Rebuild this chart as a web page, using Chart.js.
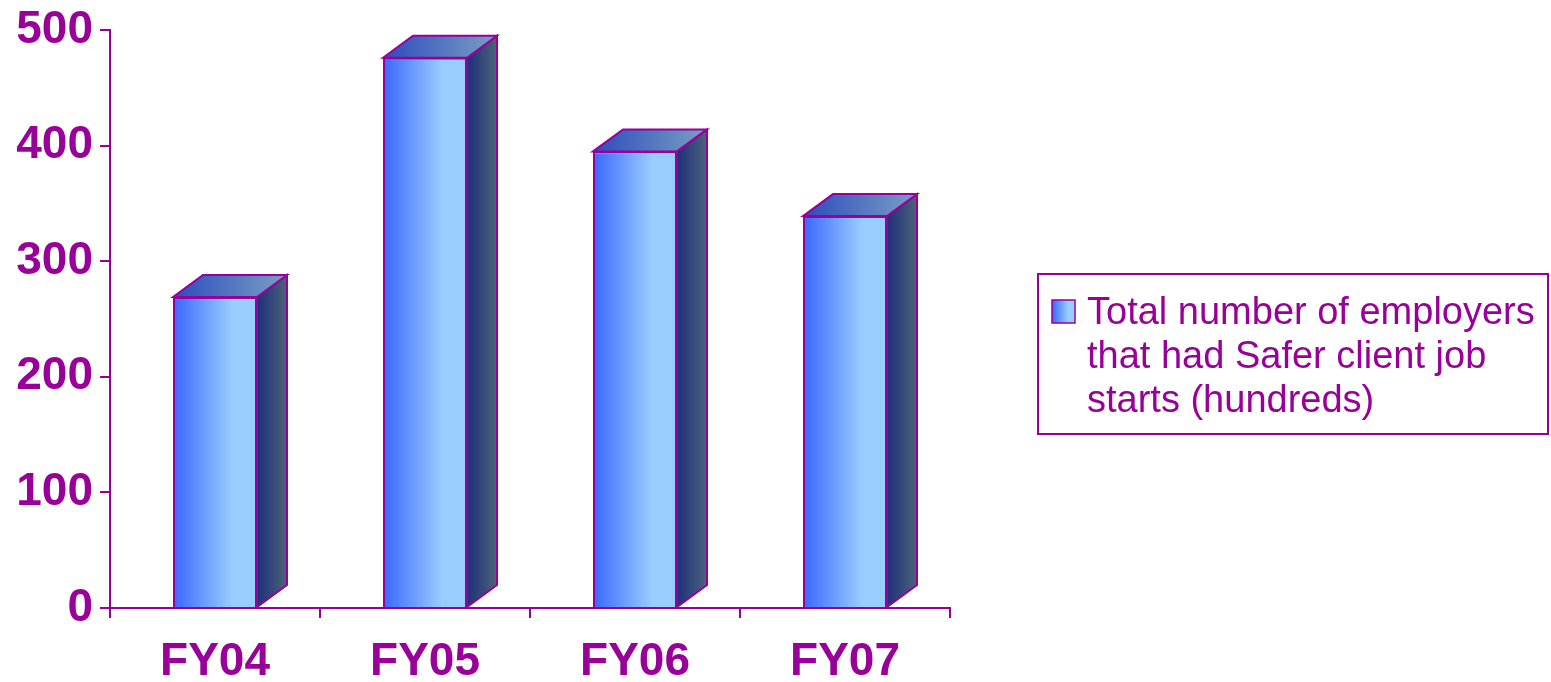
<!DOCTYPE html>
<html>
<head>
<meta charset="utf-8">
<script src="https://cdn.jsdelivr.net/npm/chart.js@4/dist/chart.umd.min.js"></script>
<style>
  html, body { margin: 0; padding: 0; background: #fff; }
  #wrap { width: 1551px; height: 682px; position: relative; }
</style>
</head>
<body>
<div id="wrap"><canvas id="employerChart"></canvas></div>
<script>
// ===== data =====
const categories = ["FY04", "FY05", "FY06", "FY07"];
const employers = [269, 476, 395, 339];
const yTicks = [0, 100, 200, 300, 400, 500];
const legendLines = ["Total number of employers", "that had Safer client job", "starts (hundreds)"];

const purple = "#990099";
const font = "Arial, 'Liberation Sans', sans-serif";
const depthX = 30, depthY = 22;

function frontGradient(c, x0, x1) {
    let g = c.createLinearGradient(x0, 0, x1, 0);
    g.addColorStop(0, "#3a66ff");
    g.addColorStop(0.7, "#99ccff");
    g.addColorStop(1, "#9acdff");
    return g;
}

// side + top faces for the 3D look
const threeD = {
    id: "threeD",
    afterDatasetsDraw(chart) {
        const c = chart.ctx;
        chart.getDatasetMeta(0).data.forEach(bar => {
            const p = bar.getProps(["x", "y", "base", "width"], true);
            const l = p.x - p.width / 2, r = p.x + p.width / 2;
            c.save();
            c.lineWidth = 2;
            c.strokeStyle = purple;
            c.lineJoin = "miter";

            // side
            let gs = c.createLinearGradient(r, 0, r + depthX, 0);
            gs.addColorStop(0, "#1e2f7a");
            gs.addColorStop(1, "#4c6379");
            c.beginPath();
            c.moveTo(r, p.y);
            c.lineTo(r + depthX, p.y - depthY);
            c.lineTo(r + depthX, p.base - depthY);
            c.lineTo(r, p.base);
            c.closePath();
            c.fillStyle = gs;
            c.fill();
            c.stroke();

            // top
            let gt = c.createLinearGradient(l, 0, r + depthX, 0);
            gt.addColorStop(0, "#2c4cbc");
            gt.addColorStop(1, "#7a9fc4");
            c.beginPath();
            c.moveTo(l, p.y);
            c.lineTo(l + depthX, p.y - depthY);
            c.lineTo(r + depthX, p.y - depthY);
            c.lineTo(r, p.y);
            c.closePath();
            c.fillStyle = gt;
            c.fill();
            c.stroke();
            c.restore();
        });
    }
};

// boxed legend on the right
const boxLegend = {
    id: "boxLegend",
    afterDraw(chart) {
        const c = chart.ctx;
        c.save();
        c.lineWidth = 2;
        c.strokeStyle = purple;
        c.strokeRect(1038, 274, 510, 160);

        c.fillStyle = frontGradient(c, 1052, 1075);
        c.fillRect(1052, 300, 23, 23);
        c.lineWidth = 1.5;
        c.strokeRect(1052, 300, 23, 23);

        c.fillStyle = purple;
        c.font = "38px " + font;
        c.textBaseline = "alphabetic";
        legendLines.forEach((t, i) => c.fillText(t, 1087, 324 + i * 44));
        c.restore();
    }
};

new Chart(document.getElementById("employerChart"), {
    type: "bar",
    data: {
        labels: categories,
        datasets: [{
            label: legendLines.join(" "),
            data: employers,
            backgroundColor: ctx => {
                const xs = ctx.chart.scales.x;
                if (!xs || ctx.dataIndex == null) return "#6699ff";
                const cx = xs.getPixelForValue(ctx.dataIndex);
                const half = xs.width / categories.length * 0.4 / 2;
                if (!isFinite(cx) || !isFinite(half)) return "#6699ff";
                return frontGradient(ctx.chart.ctx, cx - half, cx + half);
            },
            borderColor: purple,
            borderWidth: 2,
            barPercentage: 0.4,
            categoryPercentage: 1
        }]
    },
    options: {
        responsive: true,
        maintainAspectRatio: false,
        animation: false,
        layout: { padding: { top: 28, right: 601, left: 0, bottom: 0 } },
        plugins: {
            legend: { display: false },
            tooltip: { enabled: false }
        },
        scales: {
            x: {
                grid: { display: true, drawOnChartArea: false, color: purple, lineWidth: 2, tickLength: 10 },
                border: { display: true, color: purple, width: 2 },
                ticks: { color: purple, font: { family: font, size: 46, weight: "bold" }, padding: 17 },
                afterFit: s => { s.height = 74; }
            },
            y: {
                min: yTicks[0],
                max: yTicks[yTicks.length - 1],
                afterBuildTicks: s => { s.ticks = yTicks.map(v => ({ value: v })); },
                grid: { display: true, drawOnChartArea: false, color: purple, lineWidth: 2, tickLength: 10 },
                border: { display: true, color: purple, width: 2 },
                ticks: { color: purple, font: { family: font, size: 46, weight: "bold", lineHeight: 1 }, padding: 7 },
                afterFit: s => { s.width = 110; }
            }
        }
    },
    plugins: [threeD, boxLegend]
});
</script>
</body>
</html>
